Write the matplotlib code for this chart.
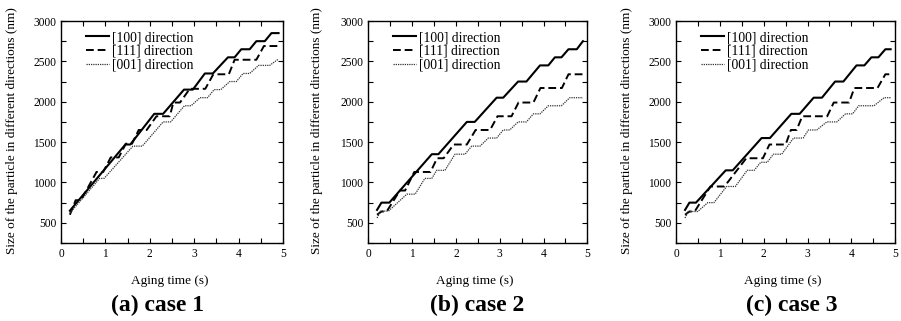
import matplotlib
matplotlib.use("Agg")
import matplotlib.pyplot as plt
from matplotlib.ticker import MultipleLocator

plt.rcParams['font.family'] = ['Liberation Serif', 'DejaVu Serif']

labels = ["[100] direction", "[111] direction", "[001] direction"]
captions = ["(a) case 1", "(b) case 2", "(c) case 3"]

# ---- case 1 ----
a100_t = [0.2, 1.45, 1.56, 2.1, 2.3, 2.77, 2.97, 3.24, 3.42, 3.76, 3.91, 4.06, 4.25, 4.40, 4.59, 4.74, 4.9]
a100_v = [650, 1470, 1470, 1850, 1850, 2150, 2150, 2350, 2350, 2550, 2550, 2650, 2650, 2750, 2750, 2850, 2850]
a111_t = [0.2, 0.33, 0.45, 0.8, 0.95, 1.12, 1.3, 1.46, 1.6, 1.75, 1.93, 2.15, 2.45, 2.53, 2.68, 2.9, 3.25, 3.43, 3.78, 3.91, 4.4, 4.57, 4.9]
a111_v = [600, 780, 780, 1130, 1130, 1310, 1310, 1480, 1480, 1650, 1650, 1820, 1820, 1990, 1990, 2160, 2160, 2340, 2340, 2520, 2520, 2690, 2690]
a001_t = [0.2, 0.87, 0.97, 1.62, 1.83, 2.3, 2.47, 2.78, 2.93, 3.13, 3.3, 3.45, 3.6, 3.8, 3.95, 4.1, 4.25, 4.45, 4.7, 4.9]
a001_v = [620, 1050, 1050, 1450, 1450, 1750, 1750, 1950, 1950, 2050, 2050, 2150, 2150, 2250, 2250, 2350, 2350, 2450, 2450, 2530]

# ---- case 2 ----
b100_t = [0.2, 0.3, 0.48, 1.45, 1.6, 2.25, 2.43, 2.93, 3.08, 3.42, 3.61, 3.92, 4.11, 4.26, 4.41, 4.57, 4.76, 4.9]
b100_v = [660, 750, 750, 1350, 1350, 1750, 1750, 2050, 2050, 2250, 2250, 2450, 2450, 2550, 2550, 2650, 2650, 2750]
b111_t = [0.2, 0.3, 0.42, 0.72, 0.84, 1.05, 1.42, 1.57, 1.72, 1.95, 2.25, 2.45, 2.78, 2.95, 3.27, 3.43, 3.77, 3.93, 4.42, 4.57, 4.9]
b111_v = [600, 640, 640, 900, 900, 1130, 1130, 1300, 1300, 1470, 1470, 1650, 1650, 1820, 1820, 1990, 1990, 2170, 2170, 2340, 2340]
b001_t = [0.2, 0.28, 0.46, 0.88, 1.07, 1.29, 1.45, 1.56, 1.75, 1.98, 2.21, 2.36, 2.55, 2.74, 2.93, 3.08, 3.23, 3.42, 3.61, 3.77, 3.92, 4.11, 4.41, 4.6, 4.9]
b001_v = [560, 645, 645, 855, 855, 1050, 1050, 1150, 1150, 1350, 1350, 1450, 1450, 1550, 1550, 1650, 1650, 1750, 1750, 1850, 1850, 1950, 1950, 2050, 2050]

# ---- case 3 ----
c100_t = [0.2, 0.3, 0.45, 1.13, 1.29, 1.95, 2.14, 2.63, 2.82, 3.14, 3.33, 3.63, 3.82, 4.12, 4.3, 4.46, 4.62, 4.78, 4.9]
c100_v = [660, 750, 750, 1150, 1150, 1550, 1550, 1850, 1850, 2050, 2050, 2250, 2250, 2450, 2450, 2550, 2550, 2650, 2650]
c111_t = [0.2, 0.3, 0.42, 0.78, 1.1, 1.6, 1.98, 2.13, 2.5, 2.62, 2.75, 2.88, 3.45, 3.6, 3.95, 4.07, 4.6, 4.78, 4.9]
c111_v = [600, 640, 640, 950, 950, 1300, 1300, 1470, 1470, 1650, 1650, 1820, 1820, 1990, 1990, 2170, 2170, 2340, 2340]
c001_t = [0.2, 0.27, 0.49, 0.72, 0.86, 1.15, 1.35, 1.62, 1.78, 1.93, 2.08, 2.22, 2.41, 2.68, 2.9, 3.02, 3.21, 3.44, 3.67, 3.87, 4.03, 4.17, 4.52, 4.75, 4.9]
c001_v = [560, 640, 640, 750, 750, 950, 950, 1150, 1150, 1250, 1250, 1350, 1350, 1550, 1550, 1650, 1650, 1750, 1750, 1850, 1850, 1950, 1950, 2050, 2050]

panels = [
    [(a100_t, a100_v), (a111_t, a111_v), (a001_t, a001_v)],
    [(b100_t, b100_v), (b111_t, b111_v), (b001_t, b001_v)],
    [(c100_t, c100_v), (c111_t, c111_v), (c001_t, c001_v)],
]

styles = [
    dict(color='black', lw=1.5, linestyle='-'),
    dict(color='black', lw=1.4, linestyle=(0, (4.0, 2.0))),
    dict(color='#333333', lw=0.9, linestyle=(0, (1.0, 0.8))),
]

fig = plt.figure(figsize=(9.01, 3.21), dpi=100)

W, H = 901.0, 321.0
ax_px = [(61, 222), (368.3, 219), (676.3, 218.7)]
top_px, bot_px = 21, 243
ylabel_x = [12, 317, 627]
xlabel_cx = [170, 475, 783]
caption_cx = [158, 477, 792]

for i, (left, width) in enumerate(ax_px):
    ax = fig.add_axes([left / W, 1 - bot_px / H, width / W, (bot_px - top_px) / H])
    for (t, v), st, lab in zip(panels[i], styles, labels):
        ax.plot(t, v, label=lab, **st)
    ax.set_xlim(0, 5)
    ax.set_ylim(250, 3000)
    ax.xaxis.set_major_locator(MultipleLocator(1))
    ax.xaxis.set_minor_locator(MultipleLocator(0.5))
    ax.yaxis.set_major_locator(MultipleLocator(500))
    ax.yaxis.set_minor_locator(MultipleLocator(250))
    ax.set_yticks([500, 1000, 1500, 2000, 2500, 3000])
    ax.tick_params(which='both', direction='in', top=True, right=True,
                   length=3.5, width=0.8, labelsize=8.3, pad=3.5)
    for s in ax.spines.values():
        s.set_linewidth(1.0)
    ax.legend(loc='upper left', bbox_to_anchor=(0.08, 0.985), frameon=False,
              fontsize=9.8, handlelength=1.75, handletextpad=0.2,
              labelspacing=0.05, borderaxespad=0.1)
    fig.text(ylabel_x[i] / W, 1 - 131 / H,
             "Size of the particle in different directions (nm)",
             rotation=90, ha='center', va='center', fontsize=9.5)
    fig.text(xlabel_cx[i] / W, 1 - 281 / H, "Aging time (s)",
             ha='center', va='center', fontsize=9.5)
    fig.text(caption_cx[i] / W, 1 - 305 / H, captions[i],
             ha='center', va='center', fontsize=17, fontweight='bold')

fig.savefig("out.png", dpi=100)
